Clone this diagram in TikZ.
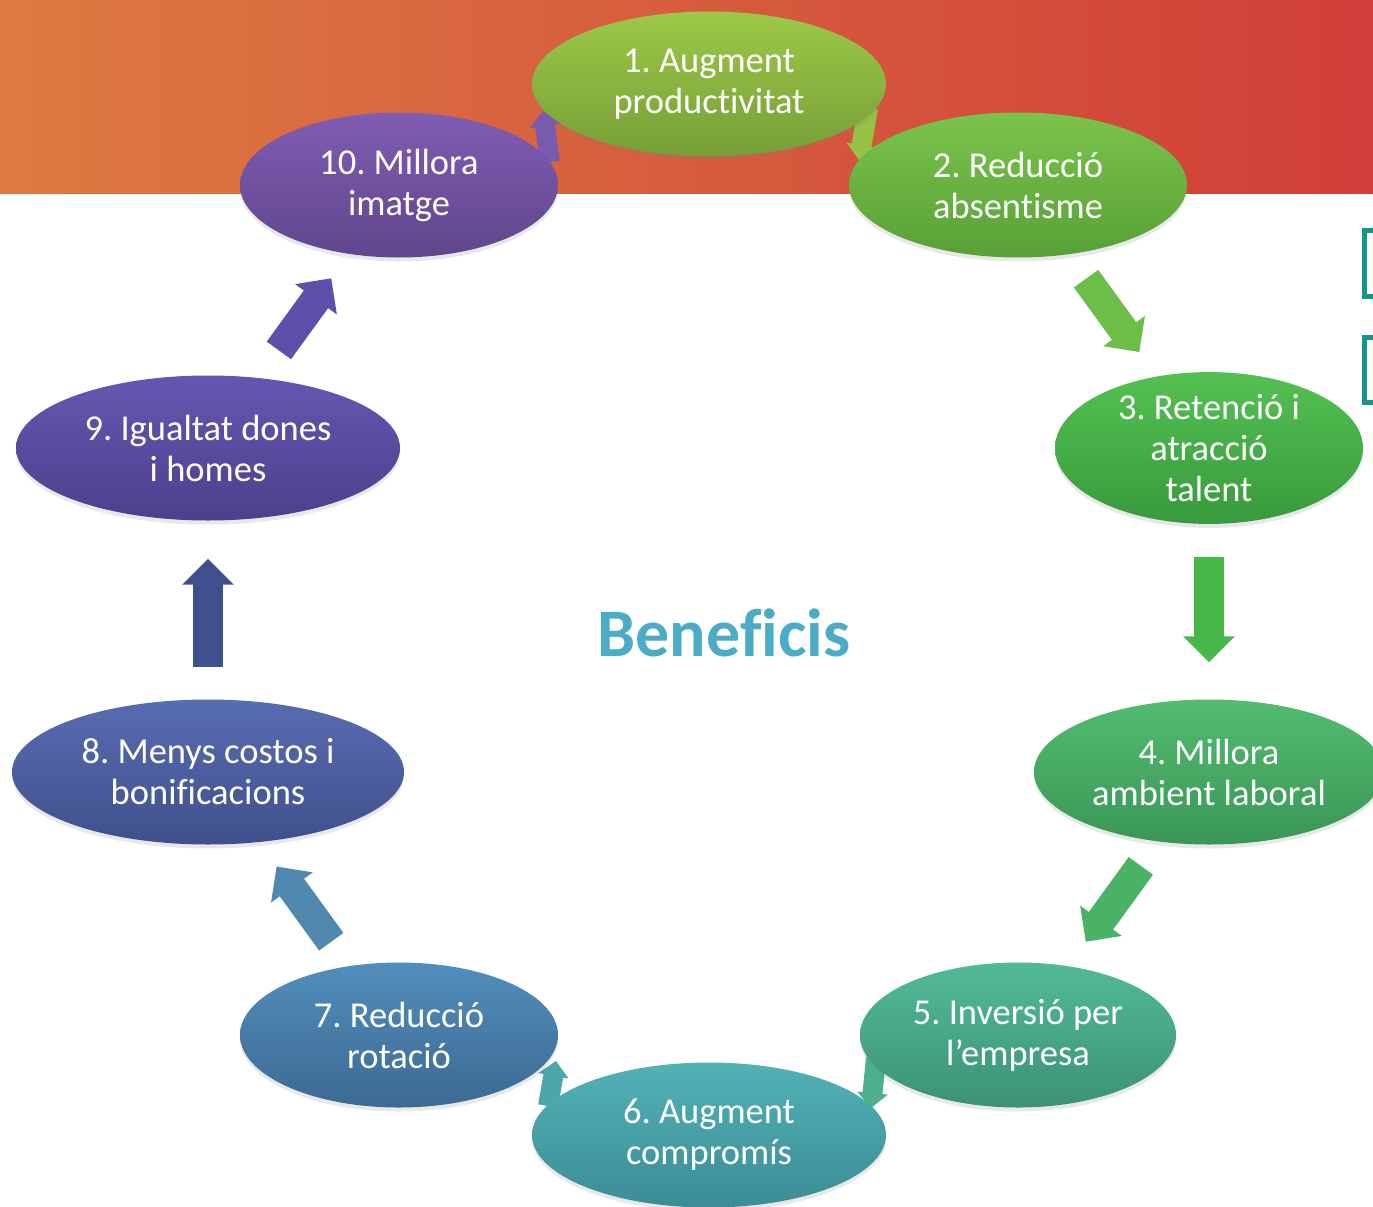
\documentclass[tikz,border=0pt]{standalone}
\usepackage{fontspec}
\setmainfont{Carlito}[Ligatures={NoCommon}]
\usetikzlibrary{shapes.geometric,arrows.meta,shadows}
\pgfdeclarelayer{band}
\pgfdeclarelayer{arrows}
\pgfsetlayers{band,arrows,main}
\definecolor{bandL}{RGB}{221,122,66}
\definecolor{bandR}{RGB}{208,62,57}
\definecolor{c1t}{RGB}{158,200,72}\definecolor{c1b}{RGB}{118,158,55}
\definecolor{c2t}{RGB}{122,196,76}\definecolor{c2b}{RGB}{88,160,55}
\definecolor{c3t}{RGB}{84,192,82}\definecolor{c3b}{RGB}{56,154,60}
\definecolor{c4t}{RGB}{82,188,112}\definecolor{c4b}{RGB}{58,150,86}
\definecolor{c5t}{RGB}{82,186,152}\definecolor{c5b}{RGB}{60,146,116}
\definecolor{c6t}{RGB}{82,178,182}\definecolor{c6b}{RGB}{60,140,150}
\definecolor{c7t}{RGB}{82,142,188}\definecolor{c7b}{RGB}{60,106,146}
\definecolor{c8t}{RGB}{88,108,178}\definecolor{c8b}{RGB}{64,80,140}
\definecolor{c9t}{RGB}{102,86,178}\definecolor{c9b}{RGB}{76,64,140}
\definecolor{c10t}{RGB}{128,92,178}\definecolor{c10b}{RGB}{96,70,140}
\definecolor{a12}{RGB}{150,195,70}
\definecolor{a23}{RGB}{108,190,72}
\definecolor{a34}{RGB}{70,184,74}
\definecolor{a45}{RGB}{74,178,100}
\definecolor{a56}{RGB}{76,176,140}
\definecolor{a67}{RGB}{76,168,168}
\definecolor{a78}{RGB}{80,136,176}
\definecolor{a89}{RGB}{64,80,140}
\definecolor{a910}{RGB}{94,80,170}
\definecolor{a101}{RGB}{120,90,175}
\definecolor{title}{RGB}{75,172,198}
\definecolor{brk}{RGB}{20,150,140}
\tikzset{
  bub/.style={ellipse, inner sep=0pt, text=white, align=center,
    font=\fontsize{36.5}{41}\selectfont, minimum height=145pt,
    drop shadow={shadow xshift=0pt, shadow yshift=-4pt, opacity=0.18}},
  bigarrow/.style={line width=30pt, -{Triangle[length=26pt,width=50pt]}},
  smallarrow/.style={line width=20pt, -{Triangle[length=15pt,width=30pt]}},
  brack/.style={draw=brk, line width=5pt}
}
\begin{document}
\frenchspacing
\begin{tikzpicture}[x=1pt,y=-1pt]
\useasboundingbox (0,0) rectangle (1373,1207);
\begin{pgfonlayer}{band}
\fill[left color=bandL, right color=bandR] (0,0) rectangle (1373,193);
\end{pgfonlayer}
\draw[brack] (1390,230) -- (1364,230) -- (1364,296) -- (1390,296);
\draw[brack] (1390,337) -- (1364,337) -- (1364,402) -- (1390,402);

\node[bub, minimum width=354pt, top color=c1t, bottom color=c1b] (n1) at (709,84) {1. Augment\\productivitat};
\node[bub, minimum width=338pt, top color=c2t, bottom color=c2b] (n2) at (1018,185) {2. Reducció\\absentisme};
\node[bub, minimum width=308pt, top color=c3t, bottom color=c3b] (n3) at (1209,448) {3. Retenció i\\atracció\\talent};
\node[bub, minimum width=350pt, top color=c4t, bottom color=c4b] (n4) at (1209,772) {4. Millora\\ambient laboral};
\node[bub, minimum width=316pt, top color=c5t, bottom color=c5b] (n5) at (1018,1035) {5. Inversió per\\l’empresa};
\node[bub, minimum width=354pt, top color=c6t, bottom color=c6b] (n6) at (709,1135) {6. Augment\\compromís};
\node[bub, minimum width=318pt, top color=c7t, bottom color=c7b] (n7) at (399,1035) {7. Reducció\\rotació};
\node[bub, minimum width=392pt, top color=c8t, bottom color=c8b] (n8) at (208,772) {8. Menys costos i\\bonificacions};
\node[bub, minimum width=384pt, top color=c9t, bottom color=c9b] (n9) at (208,448) {9. Igualtat dones\\i homes};
\node[bub, minimum width=318pt, top color=c10t, bottom color=c10b] (n10) at (399,185) {10. Millora\\imatge};

\node[text=title, font=\fontsize{68}{72}\selectfont\bfseries] (title) at (724,633) {Beneficis};

\coordinate (s12a) at (868,108); \coordinate (s12b) at (859,160);
\coordinate (s56a) at (876,1058); \coordinate (s56b) at (871,1108);
\coordinate (s67a) at (548,1106); \coordinate (s67b) at (556,1061);
\coordinate (s101a) at (550,162); \coordinate (s101b) at (543,111);

\begin{pgfonlayer}{arrows}
\draw[smallarrow, draw=a12] (s12a) -- (s12b);
\draw[bigarrow, draw=a23, shorten <=30pt, shorten >=30pt] (n2) -- (n3);
\draw[bigarrow, draw=a34, shorten <=33pt, shorten >=37pt] (n3) -- (n4);
\draw[bigarrow, draw=a45, shorten <=30pt, shorten >=30pt] (n4) -- (n5);
\draw[smallarrow, draw=a56] (s56a) -- (s56b);
\draw[smallarrow, draw=a67] (s67a) -- (s67b);
\draw[bigarrow, draw=a78, shorten <=30pt, shorten >=30pt] (n7) -- (n8);
\draw[bigarrow, draw=a89, shorten <=32pt, shorten >=38pt] (n8) -- (n9);
\draw[bigarrow, draw=a910, shorten <=34pt, shorten >=30pt] (n9) -- (n10);
\draw[smallarrow, draw=a101] (s101a) -- (s101b);
\end{pgfonlayer}
\end{tikzpicture}
\end{document}
